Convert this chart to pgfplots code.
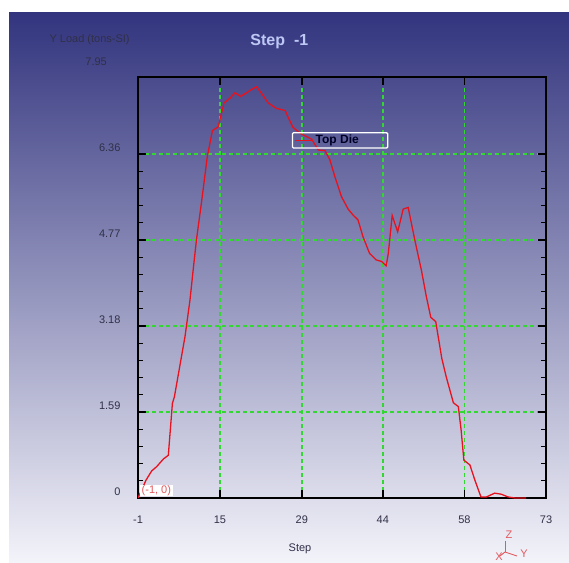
\documentclass[border=0pt]{standalone}
\usepackage{pgfplots}
\pgfplotsset{compat=1.18}
\usepackage{fontspec}
\setmainfont{Liberation Sans}
\definecolor{bgtop}{RGB}{50,52,126}
\definecolor{bgmid}{RGB}{124,126,180}
\definecolor{bgbot}{RGB}{243,243,250}
\definecolor{lblcol}{RGB}{48,48,72}
\definecolor{titlecol}{RGB}{190,200,245}
\definecolor{gridgreen}{RGB}{50,215,50}
\definecolor{curvered}{RGB}{232,18,30}
\definecolor{triad}{RGB}{225,90,95}
\begin{document}
\begin{tikzpicture}[x=1pt,y=1pt]
\useasboundingbox (0,0) rectangle (569,-562);
\fill[white] (0,0) rectangle (569,-562);
\shade[top color=bgtop, middle color=bgmid, bottom color=bgbot] (9,-12) rectangle (569,-562);
\begin{axis}[
  at={(138pt,-498pt)}, anchor=south west,
  scale only axis, width=408pt, height=421pt,
  xmin=-1, xmax=73, ymin=0, ymax=7.78,
  xtick={-1,13.85,28.72,43.4,58.2,73},
  xticklabels={-1,15,29,44,58,73},
  ytick={0,1.59,3.18,4.77,6.36},
  yticklabels={0,1.59,3.18,4.77,6.36},
  minor x tick num=4, minor y tick num=4,
  tick align=inside,
  xtick pos=both, ytick pos=both,
  xticklabel pos=lower, yticklabel pos=left,
  major tick length=8pt, minor tick length=5pt,
  every tick/.style={black, line width=1pt},
  major tick style={black, line width=1.4pt},
  axis line style={black, line width=1.5pt},
  grid=major,
  major grid style={gridgreen, dash pattern=on 4pt off 3pt, line width=1.4pt},
  x grid style={gridgreen, dash pattern=on 4pt off 3pt, line width=1.7pt},
  tick label style={font=\fontsize{11}{13}\selectfont, text=lblcol},
  xticklabel style={anchor=base, yshift=-25pt},
  yticklabel style={anchor=base east, xshift=-14pt, yshift=2.5pt},
  title={Step\ \ -1},
  title style={at={(axis description cs:0.267,1.0594)}, anchor=base west, font=\bfseries\fontsize{16}{18}\selectfont, text=titlecol},
  xlabel={Step},
  xlabel style={at={(axis description cs:0.397,-0.128)}, anchor=base, font=\fontsize{11}{13}\selectfont, text=lblcol},
  ylabel={Y Load (tons-SI)},
  ylabel style={at={(axis description cs:-0.2255,1.081)}, rotate=-90, anchor=base west, font=\fontsize{11}{13}\selectfont, text=lblcol},
  legend style={at={(axis description cs:0.377,0.869)}, anchor=north west, draw=white, line width=1.3pt, fill=none, rounded corners=1pt, inner xsep=2pt, inner ysep=0.5pt, font=\bfseries\fontsize{12}{13}\selectfont, text=black!85!blue, cells={anchor=west}},
  legend image code/.code={\draw[#1, line width=1.2pt] (0pt,0pt) -- (18pt,0pt);},
]
\addplot[curvered, line width=1.3pt, mark=none] coordinates {
(-1,0) (0.45,0.33) (1.48,0.50) (2.39,0.58) (3.6,0.72) (4.5,0.79) (5.24,1.75) (5.6,1.87)
(7.52,2.98) (8.43,3.66) (9.0,4.21) (9.6,4.77) (10.5,5.45) (11.57,6.31) (12.5,6.79) (13.55,6.86)
(14.6,7.30) (15.7,7.39) (16.6,7.49) (17.6,7.42) (18.7,7.49) (19.6,7.55) (20.5,7.60) (21.6,7.45)
(22.6,7.30) (24.1,7.20) (25.7,7.16) (26.3,7.02) (27.1,6.85) (28.4,6.74) (30.5,6.63) (31.7,6.43)
(32.9,6.42) (33.8,6.25) (34.7,5.94) (35.9,5.57) (37.1,5.34) (38.0,5.23) (38.9,5.14) (39.8,4.83)
(41.0,4.52) (42.2,4.40) (43.2,4.37) (44.0,4.29) (44.4,4.52) (45.1,5.22) (46.1,4.92) (47.1,5.34)
(48.0,5.37) (49.2,4.77) (50.4,4.21) (51.3,3.72) (52.1,3.34) (53.0,3.26) (54.1,2.58) (54.9,2.24)
(56.2,1.76) (57.1,1.69) (57.6,1.26) (58.1,0.70) (59.2,0.61) (60.1,0.33) (61.2,0.02) (62.2,0.02)
(63.7,0.09) (64.9,0.07) (66.1,0.02) (67.4,0.0) (69.4,0.0)
};
\addlegendentry{\makebox[68pt][l]{Top Die}}
\end{axis}
\node[anchor=base east, font=\fontsize{11}{13}\selectfont, text=lblcol, inner sep=0pt] at (107,-65) {7.95};
\node[anchor=south west, fill=white, inner xsep=1.5pt, inner ysep=0.5pt, font=\fontsize{11}{12}\selectfont, text=triad] at (140,-496) {(-1, 0)};
\draw[triad, line width=0.9pt] (505,-552) -- (505,-541);
\draw[triad, line width=0.9pt] (505,-552) -- (517,-556);
\draw[triad, line width=0.9pt] (505,-552) -- (500,-556);
\node[font=\fontsize{11}{12}\selectfont, text=triad, inner sep=0pt] at (509,-535) {Z};
\node[font=\fontsize{11}{12}\selectfont, text=triad, inner sep=0pt] at (524,-554) {Y};
\node[font=\fontsize{11}{12}\selectfont, text=triad, inner sep=0pt] at (499,-557) {X};
\end{tikzpicture}
\end{document}
